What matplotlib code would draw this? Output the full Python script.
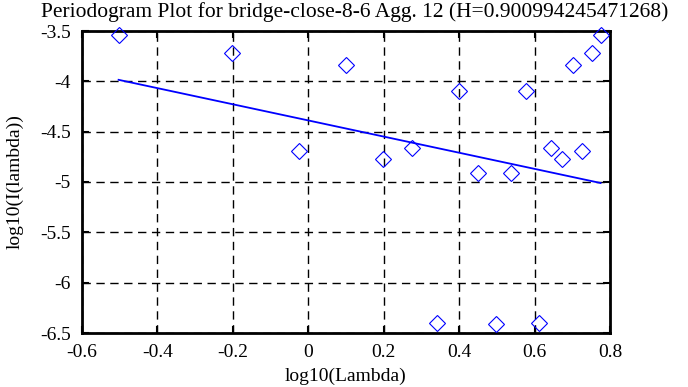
import matplotlib
matplotlib.use("Agg")
import matplotlib.pyplot as plt

log_lambda = [-0.503, -0.203, -0.025, 0.099, 0.198, 0.275, 0.342, 0.400, 0.451,
              0.497, 0.538, 0.577, 0.612, 0.643, 0.673, 0.701, 0.726, 0.751, 0.775]
log_I = [-3.54, -3.716, -4.690, -3.838, -4.775, -4.666, -6.40, -4.093, -4.912,
         -6.413, -4.912, -4.093, -6.396, -4.666, -4.775, -3.838, -4.690, -3.716, -3.537]
fit_x = [-0.503, 0.775]
fit_y = [-3.985, -5.01]

xticks = [-0.6, -0.4, -0.2, 0, 0.2, 0.4, 0.6, 0.8]
xticklabels = ["-0.6", "-0.4", "-0.2", "0", "0.2", "0.4", "0.6", "0.8"]
yticks = [-6.5, -6, -5.5, -5, -4.5, -4, -3.5]
yticklabels = ["-6.5", "-6", "-5.5", "-5", "-4.5", "-4", "-3.5"]

plt.rcParams['font.family'] = ['Liberation Serif', 'DejaVu Serif']

fig = plt.figure(figsize=(6.88, 3.87), dpi=100)
ax = fig.add_axes([82/688, 1-333/387, (610-82)/688, (333-31)/387])

ax.plot(log_lambda, log_I, linestyle='none', marker='D', markersize=8,
        markerfacecolor='none', markeredgecolor='#0000ff', markeredgewidth=0.8,
        clip_on=False, zorder=3)
ax.plot(fit_x, fit_y, color='#0000ff', linewidth=1.3, zorder=3)

ax.set_xlim(-0.6, 0.8)
ax.set_ylim(-6.5, -3.5)
ax.set_xticks(xticks)
ax.set_xticklabels(xticklabels)
ax.set_yticks(yticks)
ax.set_yticklabels(yticklabels)
ax.grid(True, color='black', linestyle=(0, (6, 4)), linewidth=1.0)
ax.tick_params(direction='in', length=5, width=1.5, top=True, right=True,
               labelsize=14, colors='black')
ax.tick_params(axis='x', pad=8)
ax.tick_params(axis='y', pad=8)
for s in ax.spines.values():
    s.set_linewidth(2)
    s.set_color('black')

ax.set_xlabel('log10(Lambda)', fontsize=14, labelpad=5)
ax.set_ylabel('log10(I(lambda))', fontsize=14, labelpad=12)
ax.set_title('Periodogram Plot for bridge-close-8-6 Agg. 12 (H=0.900994245471268)',
             fontsize=15.5, pad=10, x=0.516)

fig.savefig('out.png', dpi=100)
